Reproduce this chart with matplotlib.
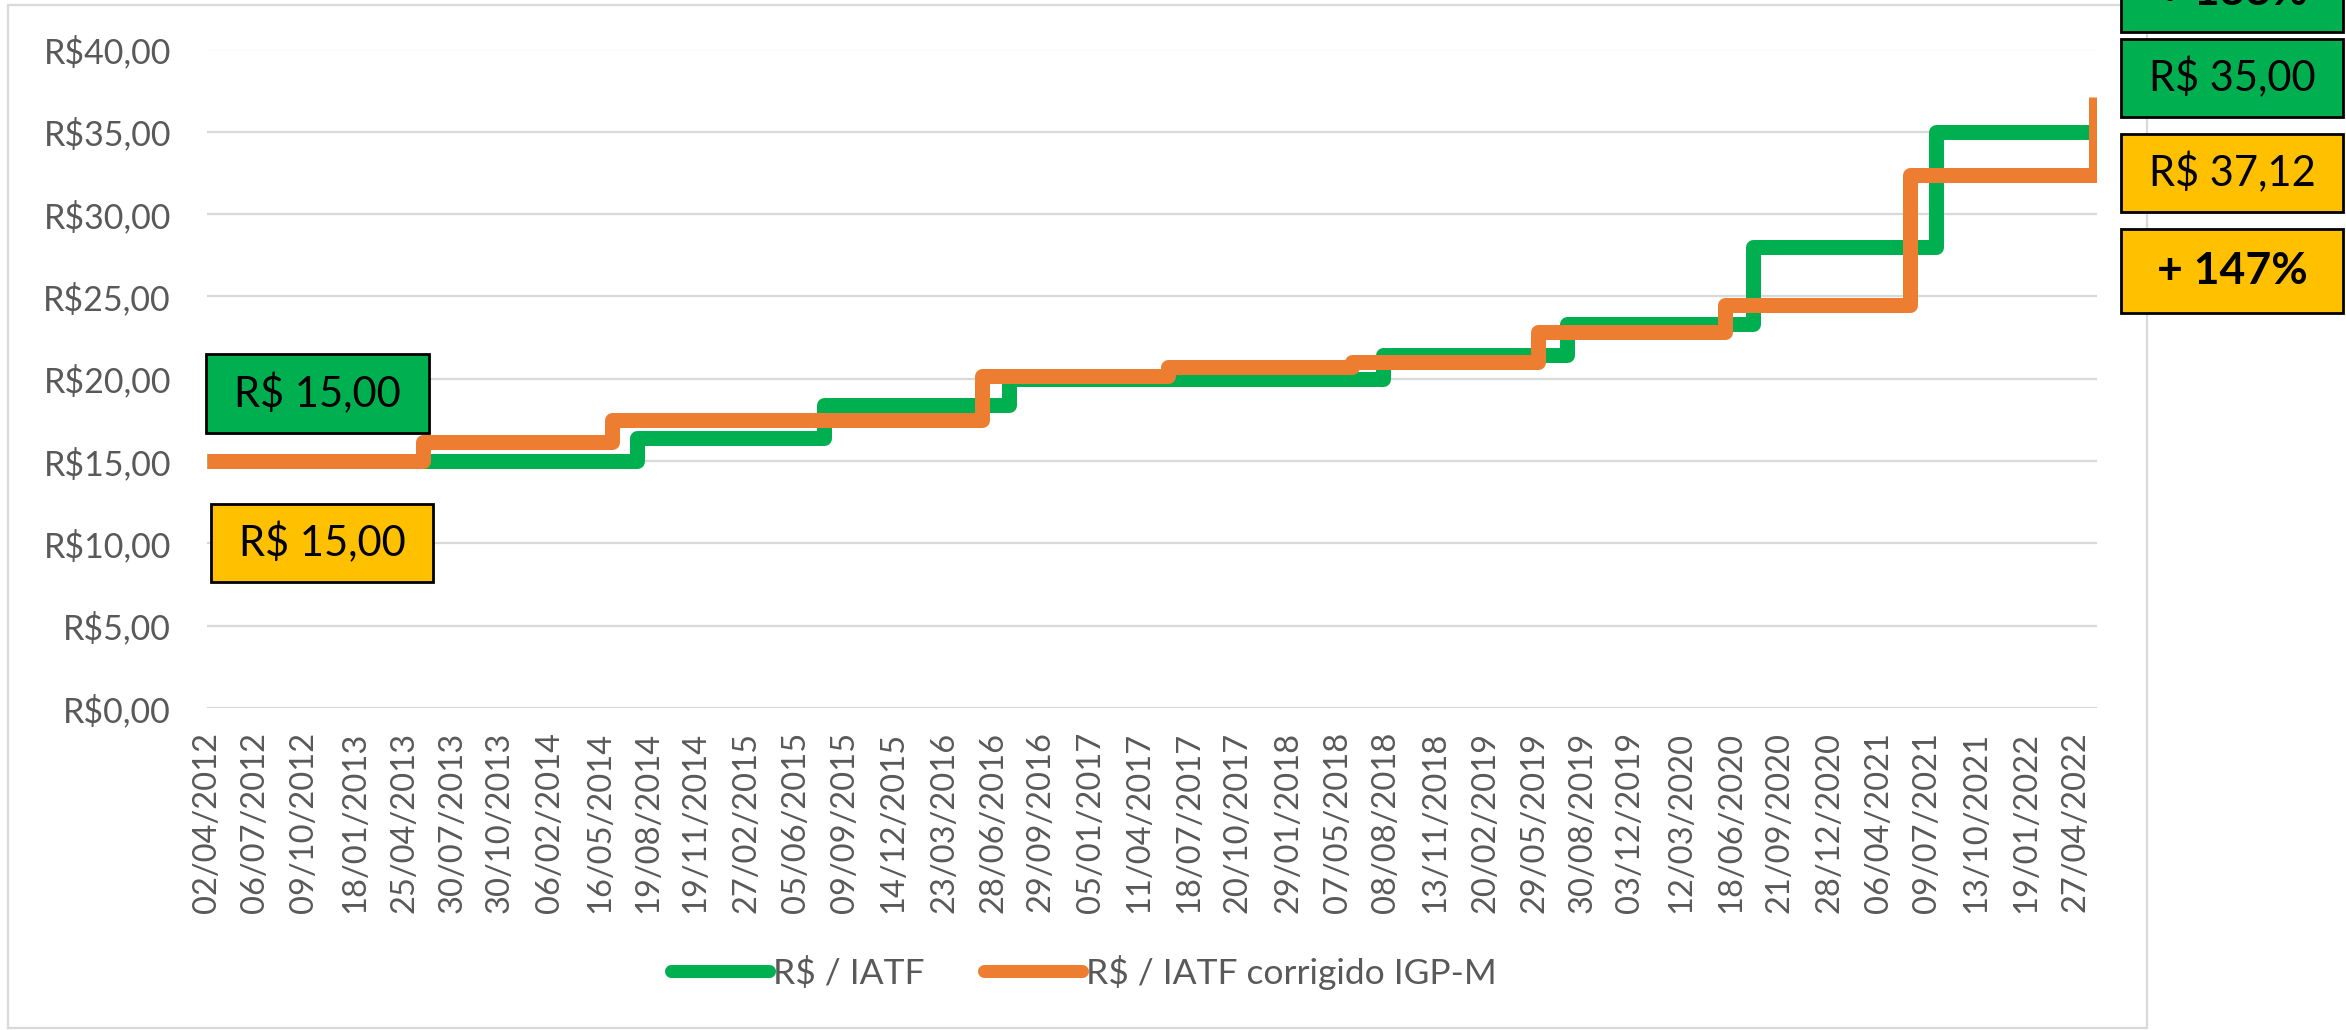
import matplotlib
matplotlib.use("Agg")
import matplotlib.pyplot as plt
from matplotlib.patches import Rectangle
from matplotlib.ticker import FuncFormatter, MultipleLocator
from matplotlib.lines import Line2D
import pandas as pd

plt.rcParams['font.family'] = ['Lato', 'DejaVu Sans']

# ---------------- data ----------------
tick_dates = ["02/04/2012", "06/07/2012", "09/10/2012", "18/01/2013", "25/04/2013",
              "30/07/2013", "30/10/2013", "06/02/2014", "16/05/2014", "19/08/2014",
              "19/11/2014", "27/02/2015", "05/06/2015", "09/09/2015", "14/12/2015",
              "23/03/2016", "28/06/2016", "29/09/2016", "05/01/2017", "11/04/2017",
              "18/07/2017", "20/10/2017", "29/01/2018", "07/05/2018", "08/08/2018",
              "13/11/2018", "20/02/2019", "29/05/2019", "30/08/2019", "03/12/2019",
              "12/03/2020", "18/06/2020", "21/09/2020", "28/12/2020", "06/04/2021",
              "09/07/2021", "13/10/2021", "19/01/2022", "27/04/2022"]

# R$ / IATF (nominal) - step change dates and values
green_dates = ["02/04/2012", "28/07/2014", "30/07/2015", "28/07/2016", "04/08/2018",
               "31/07/2019", "31/07/2020", "27/07/2021"]
green_values = [15.00, 16.40, 18.40, 20.00, 21.45, 23.35, 28.00, 35.00]

# R$ / IATF corrigido IGP-M - step change dates and values
orange_dates = ["02/04/2012", "01/06/2013", "07/06/2014", "05/06/2016", "06/06/2017",
                "04/06/2018", "05/06/2019", "06/06/2020", "05/06/2021", "06/06/2022"]
orange_values = [15.00, 16.15, 17.50, 20.15, 20.72, 21.00, 22.85, 24.45, 32.35, 37.12]

end_date = "06/06/2022"

series_names = ["R$ / IATF", "R$ / IATF corrigido IGP-M"]
box_texts_green = ["R$ 15,00", "R$ 35,00", "+ 133%"]
box_texts_orange = ["R$ 15,00", "R$ 37,12", "+ 147%"]

# ---------------- styles ----------------
GREEN = "#00B050"
ORANGE = "#ED7D31"
YELLOW = "#FFC000"
GRID = "#D9D9D9"
TXT = "#595959"

W, H = 2346, 1030
DPI = 100
fig = plt.figure(figsize=(W / DPI, H / DPI), dpi=DPI)

def fx(px):
    return px / W

def fy(py):
    return 1 - py / H

ax = fig.add_axes([fx(207), fy(708), fx(2097 - 207), (708 - 49.5) / H])

to_dt = lambda s: pd.to_datetime(s, format="%d/%m/%Y")
tdates = to_dt(tick_dates)
gd = list(to_dt(green_dates)) + [to_dt(end_date)]
gv = green_values + [green_values[-1]]
od = list(to_dt(orange_dates))
ov = orange_values

ax.step(gd, gv, where="post", color=GREEN, lw=10.8, solid_joinstyle="round",
        solid_capstyle="butt", zorder=3)
ax.step(od, ov, where="post", color=ORANGE, lw=10.8, solid_joinstyle="round",
        solid_capstyle="butt", zorder=4)

ax.set_ylim(0, 40)
ax.set_xlim(tdates[0], to_dt(end_date) + pd.Timedelta(days=2))
ax.yaxis.set_major_locator(MultipleLocator(5))
ax.yaxis.set_major_formatter(FuncFormatter(lambda v, p: "R$%d,00" % round(v)))
ax.set_xticks(tdates)
ax.set_xticklabels(tick_dates, rotation=90, va="top", ha="center")
ax.tick_params(axis="both", length=0, colors=TXT)
ax.tick_params(axis="y", labelsize=24.5, pad=26)
ax.tick_params(axis="x", labelsize=23.5, pad=17)
ax.yaxis.grid(True, color=GRID, lw=1.6)
ax.set_axisbelow(True)
for s in ax.spines.values():
    s.set_visible(False)

# legend
handles = [Line2D([], [], color=GREEN, lw=9.4, solid_capstyle="round"),
           Line2D([], [], color=ORANGE, lw=9.4, solid_capstyle="round")]
fig.legend(handles, series_names, loc="center", bbox_to_anchor=(fx(1084), fy(972)),
           ncol=2, frameon=False, fontsize=25.5, labelcolor=TXT, handlelength=2.75,
           handletextpad=0.12, columnspacing=1.7, borderpad=0)

# chart frame
fig.patches.append(Rectangle((fx(8), fy(1028)), fx(2147 - 8), (1028 - 5) / H,
                             transform=fig.transFigure, fill=False, ec=GRID, lw=1.6,
                             zorder=0))

def add_box(x0, y0, x1, y1, text, fc, bold=False, size=30):
    fig.patches.append(Rectangle((fx(x0), fy(y1)), fx(x1 - x0), (y1 - y0) / H,
                                 transform=fig.transFigure, fc=fc, ec="black", lw=2.0,
                                 zorder=10))
    fig.text(fx((x0 + x1) / 2), fy((y0 + y1) / 2), text, ha="center", va="center",
             fontsize=size, fontweight="bold" if bold else "normal", color="black",
             zorder=11)

add_box(206, 354, 429, 433, box_texts_green[0], GREEN)
add_box(211, 504, 433, 582, box_texts_orange[0], YELLOW)
add_box(2121, -48, 2343, 32, box_texts_green[2], GREEN, bold=True, size=32)
add_box(2121, 39, 2343, 117, box_texts_green[1], GREEN)
add_box(2121, 134, 2343, 212, box_texts_orange[1], YELLOW)
add_box(2121, 229, 2343, 313, box_texts_orange[2], YELLOW, bold=True, size=32)

fig.savefig("out.png", dpi=DPI)
